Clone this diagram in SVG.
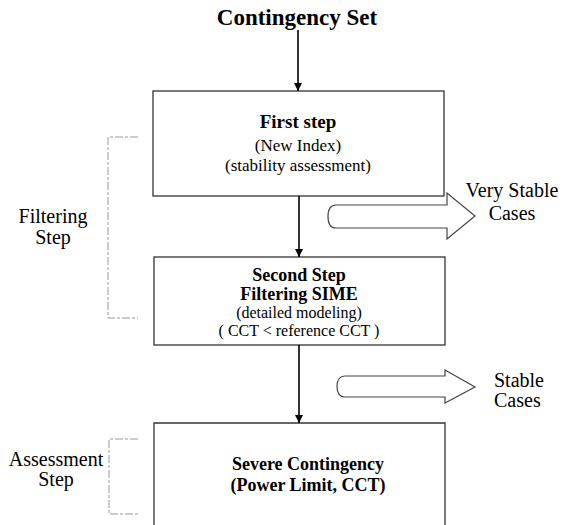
<svg xmlns="http://www.w3.org/2000/svg" width="568" height="525" viewBox="0 0 568 525">
<style>
text{font-family:"Liberation Serif","Times New Roman",serif;fill:#000}
.t{font-size:23px;font-weight:bold}
.b{font-size:19px;font-weight:bold}
.b2{font-size:18px;font-weight:bold}
.n{font-size:17px}
.n2{font-size:16px}
.l{font-size:20px}
.box{fill:none;stroke:#333;stroke-width:1.3}
.br{fill:none;stroke:#999;stroke-width:1;stroke-dasharray:8 2 3 2}
.ar{fill:none;stroke:#000;stroke-width:1.6}
.ho{fill:#fff;stroke:#444;stroke-width:1.2}
</style>
<defs>
<marker id="ah" viewBox="0 0 10 10" refX="10" refY="5" markerWidth="8" markerHeight="11" markerUnits="userSpaceOnUse" orient="auto">
<path d="M0,0 L10,5 L0,10 Z" fill="#000"/>
</marker>
</defs>
<text class="t" x="297" y="25" text-anchor="middle">Contingency Set</text>
<g id="step1">
<rect class="box" x="153" y="91" width="291" height="105"/>
<text class="b" x="298" y="128" text-anchor="middle">First step</text>
<text class="n" x="298" y="151" text-anchor="middle">(New Index)</text>
<text class="n" x="298" y="171" text-anchor="middle">(stability assessment)</text>
</g>
<g id="step2">
<rect class="box" x="154" y="257" width="291" height="88"/>
<text class="b2" x="299" y="281" text-anchor="middle">Second Step</text>
<text class="b2" x="299" y="300" text-anchor="middle">Filtering SIME</text>
<text class="n2" x="299" y="318" text-anchor="middle">(detailed modeling)</text>
<text class="n2" x="299" y="336" text-anchor="middle">( CCT &lt; reference CCT )</text>
</g>
<g id="step3">
<path class="box" d="M154,530 V423 H445 V530"/>
<text class="b2" x="308" y="470" text-anchor="middle">Severe Contingency</text>
<text class="b2" x="308" y="491" text-anchor="middle">(Power Limit, CCT)</text>
</g>
<g id="filtering">
<path class="br" d="M138,137 H108 V318 H138"/>
<text class="l" x="53" y="223" text-anchor="middle">Filtering</text>
<text class="l" x="53" y="244" text-anchor="middle">Step</text>
</g>
<g id="assessment">
<path class="br" d="M138,439 H109 V514 H138"/>
<text class="l" x="56" y="466" text-anchor="middle">Assessment</text>
<text class="l" x="56" y="486" text-anchor="middle">Step</text>
</g>
<g id="verystable">
<path class="ho" d="M336,205 H447 V193 L475,216 L447,239 V228 H336 Q328,228 328,216.5 Q328,205 336,205 Z"/>
<text class="l" x="512" y="197" text-anchor="middle">Very Stable</text>
<text class="l" x="512" y="220" text-anchor="middle">Cases</text>
</g>
<g id="stable">
<path class="ho" d="M345,376 H445 V370 L475,387 L445,403 V397 H345 Q337,397 337,386.5 Q337,376 345,376 Z"/>
<text class="l" x="494" y="387">Stable</text>
<text class="l" x="494" y="407">Cases</text>
</g>
<g id="connectors">
<line class="ar" x1="298" y1="30" x2="298" y2="91" marker-end="url(#ah)"/>
<line class="ar" x1="299" y1="196" x2="299" y2="257" marker-end="url(#ah)"/>
<line class="ar" x1="299" y1="345" x2="299" y2="423" marker-end="url(#ah)"/>
</g>
</svg>
